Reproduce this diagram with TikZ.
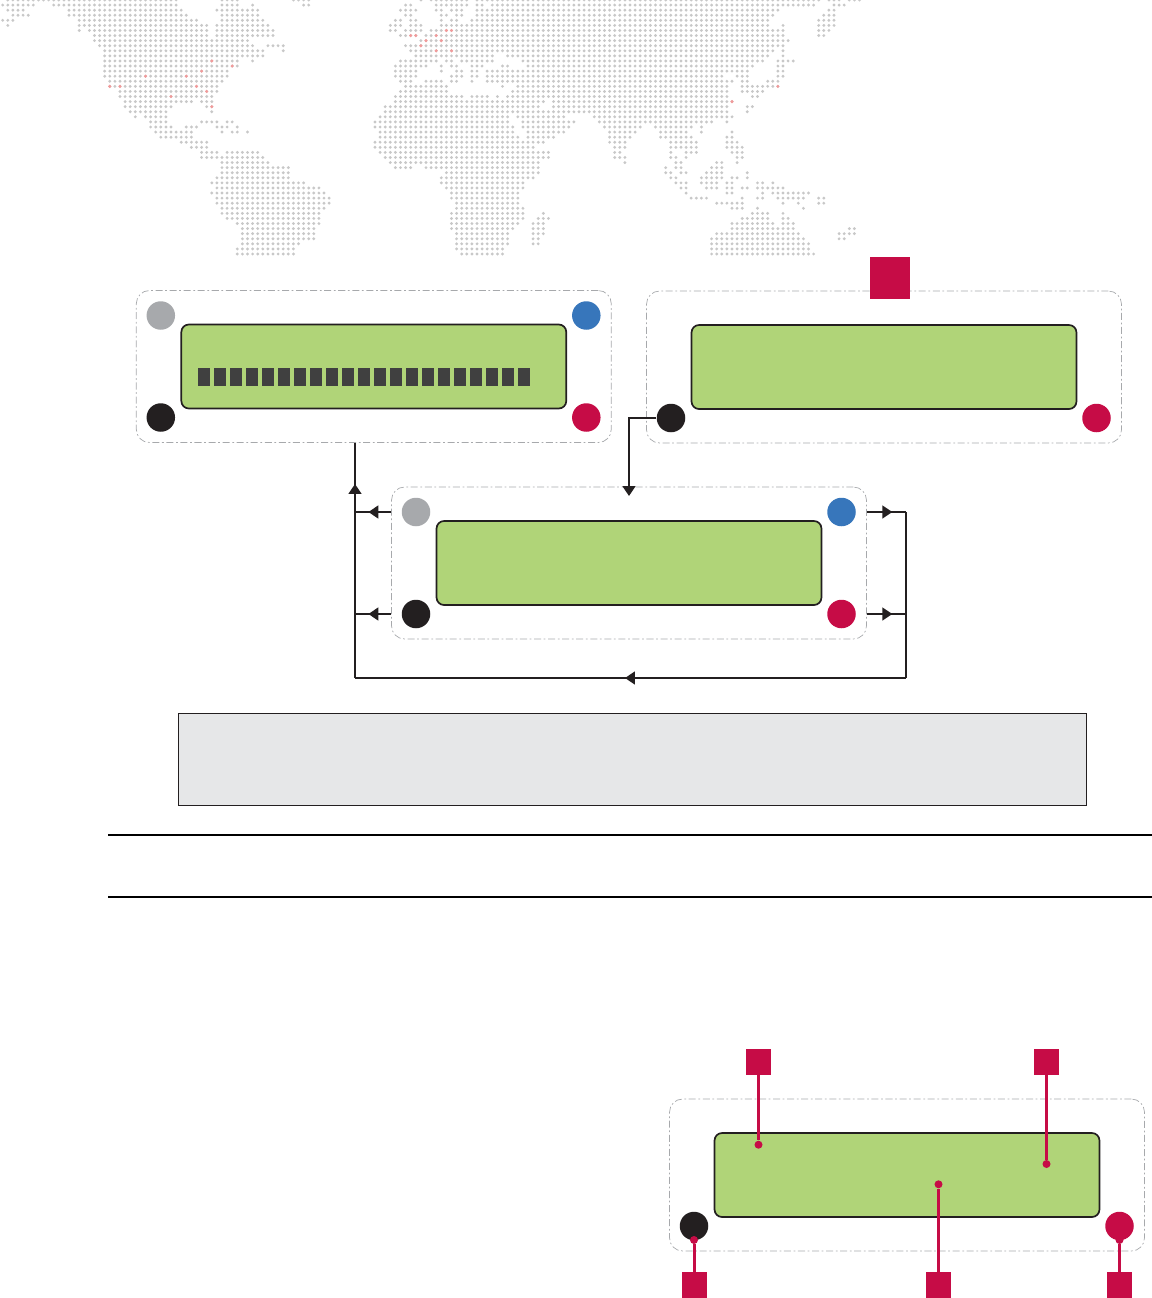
\documentclass[tikz,border=0pt]{standalone}
\usepackage{amsmath,amssymb}
\usepackage{tikz}
\usetikzlibrary{positioning,arrows.meta,decorations.markings,calc}
\definecolor{lcdgreen}{HTML}{B0D478}
\definecolor{tagred}{HTML}{C60C46}
\definecolor{ledblue}{HTML}{3776BB}
\definecolor{ledgrey}{HTML}{A7A9AC}
\definecolor{ledblack}{HTML}{231F20}
\definecolor{cellgrey}{HTML}{404040}
\definecolor{notegrey}{HTML}{E6E7E8}
\definecolor{mapgrey}{HTML}{C8C8C8}
\definecolor{mappink}{HTML}{F29A9A}
\tikzset{
  panel/.style  = {draw=ledgrey, rounded corners=0.26cm, line width=0.4pt, minimum width=9.5cm,
                   minimum height=3.04cm, dash pattern=on 4pt off 1.5pt on 1pt off 1.5pt},
  lcd/.style    = {draw=ledblack, rounded corners=0.15cm, line width=0.034cm, fill=lcdgreen,
                   minimum width=7.7cm, minimum height=1.68cm},
  led/.style    = {circle, inner sep=0pt, minimum size=0.57cm},
  cell/.style   = {fill=cellgrey, inner sep=0pt, minimum width=0.24cm, minimum height=0.36cm},
  tag/.style    = {fill=tagred, inner sep=0pt, minimum width=0.5cm, minimum height=0.52cm},
  pin/.style    = {circle, fill=tagred, inner sep=0pt, minimum size=0.16cm},
  note/.style   = {draw=ledblack, line width=0.4pt, fill=notegrey, minimum width=18.16cm, minimum height=1.85cm},
  callout/.style= {draw=tagred, line width=0.06cm},
  wire/.style   = {draw=ledblack, line width=0.034cm},
  rule/.style   = {draw=black, line width=0.04cm},
  wiretip/.style= {decoration={markings, mark=at position #1 with
                   {\arrow[ledblack]{Triangle[length=0.2cm, width=0.26cm]}}}, postaction={decorate}},
  arrow/.style  = {wire, -{Triangle[length=0.2cm, width=0.26cm, color=ledblack]}},
}
\begin{document}
\begin{tikzpicture}[x=0.02cm, y=-0.02cm]
  \useasboundingbox (0,0) rectangle (1152,1298);
  \foreach \r/\runs in {
    0/{1/34,43/46,57/60,82,84/91,93/160,162/164,166/168},
    1/{0/6,10/34,43/46,49,59/60,79/80,85/91,93/94,96/159,163/165},
    2/{1/4,13/35,42/50,78/81,85/86,88/90,93/152,162/163},
    3/{2/5,13/36,43/50,79/80,86/87,89/90,93/151,161/163},
    4/{0/2,15/38,43/51,77/78,80/81,86,88/89,92/150,160/163},
    5/{1,15/40,42/52,76/78,80/82,86/150,153,160/163},
    6/{15,17/40,42/53,76/77,79/82,84/153,160/162},
    7/{18/40,42/53,78/81,83/153,160/161},
    8/{18/48,82/154},
    9/{19/49,52/55,79/153},
    10/{20/51,55,80/151,153},
    11/{20/51,81/96,99/150,153},
    12/{20/46,49,78/85,87/88,90/96,102/149,152/155},
    13/{20/46,77/83,86,88/89,92/94,98/99,103/147,152/153},
    14/{20/44,77/81,86,89/90,92/93,95/146,152/153},
    15/{20/44,77/81,88/90,92/93,95/141,144/146,152/153},
    16/{21/43,78/80,83/86,88/89,92,95/143,145/146,150/152},
    17/{21/42,79/87,98,101/142,145/152},
    18/{23/42,78/87,100/142,145/149},
    19/{23/41,77/90,92/95,97,99/142,147/148},
    20/{24/37,39/41,77/106,108/143},
    21/{24/33,40/41,75/105,108/142,146/147},
    22/{25/32,41,75/142,146},
    23/{26,28/32,74/99,101/110,116/143},
    24/{29/32,39/42,44/45,73/99,102/112,117/139,142},
    25/{29/33,36/38,42/44,46,73/100,102/111,118/125,128/135,137},
    26/{30/37,43,45/46,48,74/100,103/110,119/124,129/134,137,143},
    27/{31/37,74/101,103/108,119/123,129/135,142/143},
    28/{35/40,73/106,119/122,131/136,142/144},
    29/{37/40,73/104,120/122,131/136,142/145},
    30/{39/42,44/50,74/107,120/121,131,134/136,143/145},
    31/{39/51,75/107,120/122,131/132,134,144/145},
    32/{43/52,76/105,122,132/133,140/141,144},
    33/{43/56,77/80,83/105,130,132/133,139/141},
    34/{43/56,87/105,130/131,133/134,138/141,146},
    35/{42/56,86/104,131/132,137/141,143/144,146},
    36/{41/59,86/102,132/134,137/140,142/143,148/149,151},
    37/{42/62,87/102,133/134,138/140,142/143,145/146,148/153},
    38/{41/63,88/101,134,142/143,149,151/158},
    39/{42/64,88/101,135/138,145,148/149,152/157,160/161},
    40/{42/64,89/101,140/145,153,156,160/161},
    41/{43/63,89/102,143/145,148,157},
    42/{43/62,88/102,106,147/150,153},
    43/{44/62,88/102,105/107,145/150,153/154},
    44/{46/62,88/101,104/106,143/151,153/155},
    45/{47/61,88/100,104/106,143/155,166/167},
    46/{47/61,89/99,104/106,140/156,164/167},
    47/{47/61,89/99,104/105,139/157,164/165},
    48/{47/58,89/99,104/105,139/158},
    49/{46/57,89/98,139/158},
    50/{46/57,90/98,139/159}} {
    \foreach \a/\b in \runs {
      \fill[mapgrey] \foreach \c in {\a,...,\b} { (2.7+5.1*\c,5.08*\r) circle[radius=0.032cm] };
    }
  }
  \foreach \c/\r in {41/12,45/13,39/14,28/15,36/15,21/17,23/17,38/17,40/18,33/19,41/21,
    87/6,88/6,80/7,81/7,85/7,83/8,86/8,82/9,85/10,88/10,143/20,152/17}
    \fill[mappink] (2.7+5.1*\c,5.08*\r) circle[radius=0.034cm];

  \foreach \p/\cx/\cy in {one/373.8/366.5, two/884/367, three/629/563, four/907/1175} {
    \node[panel] (\p) at (\cx,\cy) {};
    \node[lcd] (\p lcd) at (\p.center) {};
    \node[led, fill=ledblack] (\p black) at ([shift={(-213,51)}]\p.center) {};
    \node[led, fill=tagred] (\p red) at ([shift={(212.5,51)}]\p.center) {};
  }
  \foreach \p in {one,three} {
    \node[led, fill=ledgrey] (\p grey) at ([shift={(-213,-51)}]\p.center) {};
    \node[led, fill=ledblue] (\p blue) at ([shift={(212.5,-51)}]\p.center) {};
  }
  \foreach \i in {0,...,20}
    \node[cell] (cell\i) at (204+16*\i,377) {};
  \node[tag, minimum width=0.8cm, minimum height=0.84cm] (head) at (890,278) {};

  \coordinate (busl) at (355,678);
  \coordinate (busr) at (906,678);
  \coordinate (drop) at (629,496);
  \draw[wire, wiretip=0.51] (busr) -- (busl);
  \draw[wire, wiretip=0.825] (busl) -- (one.south -| busl);
  \draw[wire] (threeblue -| busr) -- (busr);
  \draw[wire, wiretip=0.63] (three.west |- threegrey) -- (threegrey -| busl);
  \draw[wire, wiretip=0.63] (three.west |- threeblack) -- (threeblack -| busl);
  \draw[wire, wiretip=0.65] (three.east |- threeblue) -- (threeblue -| busr);
  \draw[wire, wiretip=0.65] (three.east |- threered) -- (threered -| busr);
  \draw[arrow] (twoblack.west) -| (drop);

  \node[note] (box) at (632.5,759.5) {};
  \coordinate (ruleal) at (108,835);
  \coordinate (rulear) at (1152,835);
  \coordinate (rulebl) at (108,897);
  \coordinate (rulebr) at (1152,897);
  \draw[rule] (ruleal) -- (rulear);
  \draw[rule] (rulebl) -- (rulebr);

  \node[tag] (taga) at (758.5,1062) {};
  \node[tag] (tagb) at (1046.5,1062) {};
  \node[tag] (tagc) at (694,1285) {};
  \node[tag] (tagd) at (938.5,1285) {};
  \node[tag] (tage) at (1119.5,1285) {};
  \node[pin] (pina) at (758.5,1144.7) {};
  \node[pin] (pinb) at (1046.5,1164) {};
  \node[pin] (pinc) at (694,1240) {};
  \node[pin] (pind) at (938.5,1184.3) {};
  \node[pin] (pine) at (1119.5,1240) {};
  \draw[callout] (taga) -- (pina);
  \draw[callout] (tagb) -- (pinb);
  \draw[callout] (tagc) -- (pinc);
  \draw[callout] (tagd) -- (pind);
  \draw[callout] (tage) -- (pine);
\end{tikzpicture}
\end{document}
